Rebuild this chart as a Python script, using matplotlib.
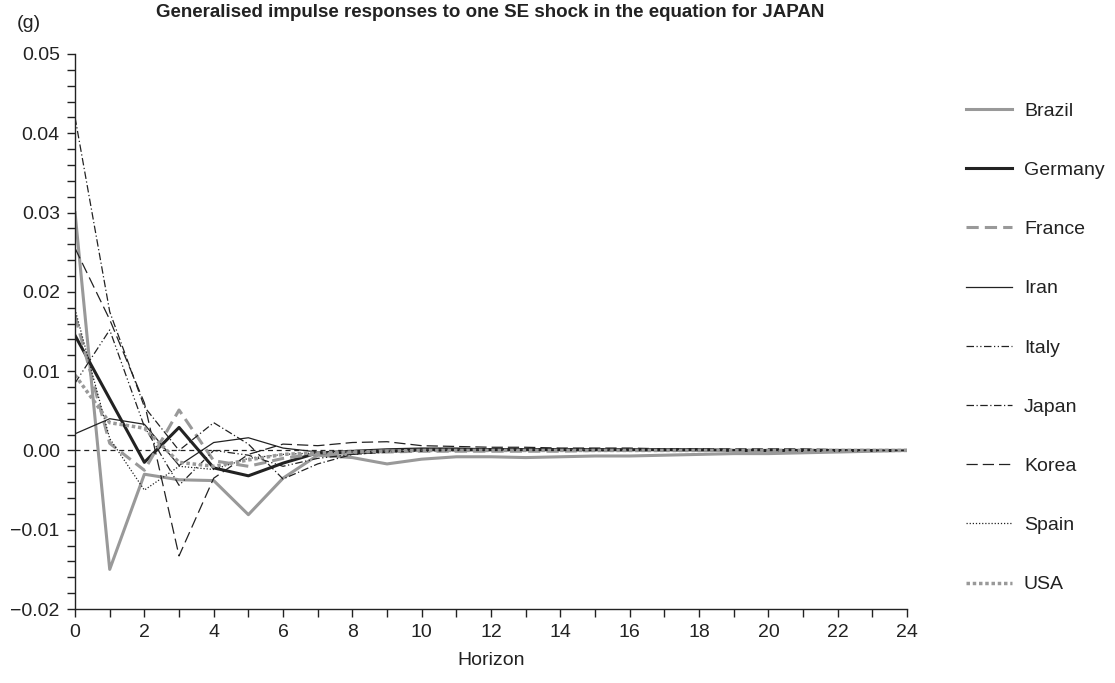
import numpy as np
import matplotlib.pyplot as plt
from matplotlib.ticker import MultipleLocator, FuncFormatter

# ---- data ----
horizon = list(range(25))

brazil = [0.0300, -0.0150, -0.0030, -0.0037, -0.0038, -0.0081, -0.0035, -0.0006,
          -0.0009, -0.0017, -0.0011, -0.0008, -0.0008, -0.0009, -0.0008, -0.0007,
          -0.0007, -0.0006, -0.0005, -0.0004, -0.0004, -0.0003, -0.0002, -0.0001, 0.0]
germany = [0.0145, 0.0065, -0.0015, 0.0029, -0.0022, -0.0032, -0.0016, -0.0003,
           -0.0003, -0.0001, 0.0001, 0.0001, 0.0001, 0.0001, 0.0001, 0.0001,
           0.0001, 0.0001, 0.0001, 0.0, 0.0, 0.0, 0.0, 0.0, 0.0]
france = [0.0170, 0.0009, -0.0025, 0.0051, -0.0013, -0.0020, -0.0010, -0.0004,
          -0.0003, -0.0002, -0.0001, -0.0001, -0.0001, -0.0001, -0.0001, 0.0,
          0.0, 0.0, 0.0, 0.0, 0.0, 0.0, 0.0, 0.0, 0.0]
iran = [0.0021, 0.0040, 0.0033, -0.0019, 0.0010, 0.0016, 0.0003, -0.0002,
        0.0, 0.0002, 0.0003, 0.0003, 0.0002, 0.0002, 0.0002, 0.0002,
        0.0001, 0.0001, 0.0001, 0.0001, 0.0001, 0.0001, 0.0001, 0.0, 0.0]
italy = [0.0085, 0.0152, 0.0030, -0.0044, 0.0000, -0.0006, -0.0020, -0.0010,
         -0.0005, -0.0002, -0.0001, 0.0, 0.0, 0.0, 0.0, 0.0,
         0.0, 0.0, 0.0, 0.0, 0.0, 0.0, 0.0, 0.0, 0.0]
japan = [0.0420, 0.0175, 0.0055, 0.0000, 0.0035, 0.0008, -0.0036, -0.0017,
         -0.0005, -0.0002, 0.0, 0.0, 0.0, 0.0, 0.0, 0.0,
         0.0, 0.0, 0.0, 0.0, 0.0, 0.0, 0.0, 0.0, 0.0]
korea = [0.0255, 0.0165, 0.0060, -0.0133, -0.0035, -0.0005, 0.0008, 0.0006,
         0.0010, 0.0011, 0.0006, 0.0005, 0.0004, 0.0004, 0.0003, 0.0003,
         0.0003, 0.0002, 0.0002, 0.0002, 0.0002, 0.0002, 0.0001, 0.0, 0.0]
spain = [0.0178, 0.0015, -0.0050, -0.0020, -0.0024, -0.0010, -0.0005, -0.0003,
         -0.0002, -0.0001, 0.0, 0.0, 0.0, 0.0, 0.0, 0.0,
         0.0, 0.0, 0.0, 0.0, 0.0, 0.0, 0.0, 0.0, 0.0]
usa = [0.0095, 0.0035, 0.0028, -0.0015, -0.0020, -0.0012, -0.0005, -0.0003,
       -0.0002, -0.0001, 0.0, 0.0, 0.0, 0.0, 0.0, 0.0,
       0.0, 0.0, 0.0, 0.0, 0.0, 0.0, 0.0, 0.0, 0.0]

names = ['Brazil', 'Germany', 'France', 'Iran', 'Italy', 'Japan', 'Korea', 'Spain', 'USA']
series = [brazil, germany, france, iran, italy, japan, korea, spain, usa]

# styles: colour, width, dash pattern
styles = [
    ('#999999', 2.2, '-'),
    ('#222222', 2.2, '-'),
    ('#999999', 2.2, (0, (4, 2))),
    ('#222222', 0.9, '-'),
    ('#222222', 0.9, (0, (6, 2, 1, 2, 1, 2))),
    ('#222222', 0.9, (0, (6, 2, 1, 2))),
    ('#222222', 0.9, (0, (9, 4))),
    ('#222222', 0.9, (0, (1, 1.5))),
    ('#999999', 2.5, (0, (1, 0.8))),
]

plt.rcParams['font.family'] = ['Liberation Sans', 'DejaVu Sans']

fig = plt.figure(figsize=(11.15, 6.83), dpi=100)
ax = fig.add_axes([0.0673, 0.1083, 0.7462, 0.8127])

ax.axhline(0, color='#222222', lw=0.9, ls=(0, (4, 3)), zorder=1)

for name, vals, (c, w, ls) in zip(names, series, styles):
    ax.plot(horizon, vals, color=c, lw=w, ls=ls, label=name, zorder=2)

ax.set_xlim(0, 24)
ax.set_ylim(-0.02, 0.05)
ax.xaxis.set_major_locator(MultipleLocator(2))
ax.xaxis.set_minor_locator(MultipleLocator(1))
ax.yaxis.set_major_locator(MultipleLocator(0.01))
ax.yaxis.set_minor_locator(MultipleLocator(0.002))
ax.yaxis.set_major_formatter(FuncFormatter(lambda v, p: f'{v:.2f}'.replace('-', '\u2212')))

for s in ['top', 'right']:
    ax.spines[s].set_visible(False)
for s in ['left', 'bottom']:
    ax.spines[s].set_linewidth(1.0)
    ax.spines[s].set_color('#222222')
ax.tick_params(which='both', direction='out', color='#222222', labelsize=14, labelcolor='#222222')
ax.tick_params(which='major', length=6, width=1.0)
ax.tick_params(which='minor', length=6, width=1.0)
ax.tick_params(axis='x', pad=5)
ax.tick_params(axis='y', pad=5)

ax.set_xlabel('Horizon', fontsize=14, color='#222222', labelpad=8)
fig.text(0.44, 0.981, 'Generalised impulse responses to one SE shock in the equation for JAPAN',
         ha='center', va='center', fontsize=13.5, fontweight='bold', color='#222222')
fig.text(0.015, 0.966, '(g)', ha='left', va='center', fontsize=14, color='#222222')

leg = fig.legend(loc='upper left', bbox_to_anchor=(0.859, 0.862), frameon=False,
                 fontsize=14, handlelength=2.4, handletextpad=0.6, labelspacing=2.14,
                 borderaxespad=0)
for t in leg.get_texts():
    t.set_color('#222222')

fig.savefig('out.png', dpi=100)
